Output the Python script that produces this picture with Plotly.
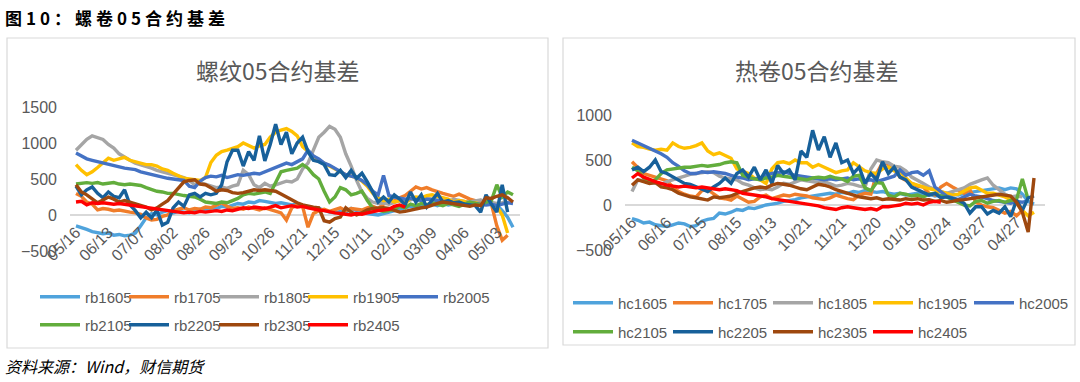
import plotly.graph_objects as go

W, H = 1080, 382

# ---------------- data ----------------
rb_ticks = ["05/16", "06/13", "07/07", "08/02", "08/26", "09/23", "10/26",
            "11/21", "12/15", "01/11", "02/13", "03/09", "04/06", "05/03"]
hc_ticks = ["05/16", "06/16", "07/15", "08/15", "09/13", "10/21", "11/21",
            "12/20", "01/19", "02/24", "03/27", "04/27"]

rb_names = ["rb1605", "rb1705", "rb1805", "rb1905", "rb2005",
            "rb2105", "rb2205", "rb2305", "rb2405"]
hc_names = ["hc1605", "hc1705", "hc1805", "hc1905", "hc2005",
            "hc2105", "hc2205", "hc2305", "hc2405"]

rb1605 = [-150, -170, -200, -230, -240, -260, -250, -280, -270, -290, -280, -250,
          -150, -40, 20, 0, 40, 60,
          30, 50, 40, 30, 60, 80, 70, 100, 90, 120, 110, 140,
          160, 150, 180, 170, 200, 190, 180, 160, 170, 150, 140, 150,
          130, 120, 100, 90, 60, 40, 30, 50, 40, 90, 60, 30,
          20, 10, 0, 20, 40, 60, 80, 100, 120, 110, 130, 140,
          150, 130, 160, 140, 150, 170, 160, 180, 190, 200, 180, 170,
          140, 60, -30, -170]
rb1705 = [300, 260, 180, 150, 70, 90, 80, 60, 70, 50, 40, 30,
          10, -40, -70, -60, -20, 0,
          60, 80, 100, 70, 90, 80, 110, 100, 140, 170, 120, 90,
          100, 80, 110, 90, 70, 100, 80, 60, 30, -70, 100, 140,
          120, -170, 20, 60, 80, 50, 70, 100, 60, 90, 80, 70,
          100, 120, 90, 150, 180, 200, 240, 270, 330, 390, 360, 380,
          350, 320, 300, 280, 260, 290, 250, 220, 200, 190, 180, 150,
          -150, -350, -280, None]
rb1805 = [900, 980, 1050, 1100, 1080, 1050, 980, 930, 850, 800, 760, 720,
          700, 680, 650, 620, 600, 580,
          560, 540, 520, 480, 420, 450, 430, 400, 380, 390, 370, 400,
          420, 620, 560, 420, 380, 440, 400, 420, 450, 470, 460, 500,
          640, 720, 900, 1080, 1150, 1230, 1190, 1080, 850, 680, 480, 320,
          230, 180, 160, 170, 150, 180, 200, 190, 210, 230, 220, 240,
          220, 210, 200, 190, 220, 200, 190, 180, 200, 210, 190, 180,
          160, 170, 190, None]
rb1905 = [700, 620, 560, 600, 660, 720, 790, 760, 780, 800, 760, 740,
          720, 700, 700, 680, 640, 620,
          580, 540, 510, 500, 490, 480, 520, 730, 830, 880, 900, 930,
          950, 1000, 960, 930, 960, 980, 1080, 1150, 1180, 1200, 1160, 1100,
          950, 880, 820, 760, 720, 680, 640, 600, 560, 540, 520, 470,
          400, 300, 240, 200, 220, 180, 200, 160, 230, 250, 240, 270,
          280, 260, 240, 220, 180, 200, 190, 160, 170, 150, 180, 140,
          120, 0, -250, None]
rb2005 = [860, 820, 780, 760, 740, 720, 700, 690, 670, 650, 640, 630,
          600, 580, 560, 550, 530, 510,
          500, 490, 480, 400, 380, 470, 520, 540, 530, 550, 520, 540,
          560, 550, 560, 580, 570, 600, 620, 650, 680, 720, 700, 740,
          780, 900, 820, 780, 720, 690, 650, 600, 560, 540, 520, 480,
          420, 330, 280, 550, 270, 250, 240, 220, 230, 210, 200, 220,
          210, 200, 190, 180, 170, 160, 150, 170, 160, 150, 140, 150,
          130, 150, 170, 160]
rb2105 = [430, 440, 450, 440, 450, 430, 440, 450, 430, 420, 430, 420,
          410, 380, 350, 330, 320, 300,
          300, 280, 270, 260, 250, 220, 180, 170, 160, 180, 170, 200,
          230, 280, 300, 290, 310, 320, 300, 450, 600, 620, 640, 650,
          700, 650, 560, 500, 330, 180, 250, 380, 350, 280, 300, 330,
          200, 100, 70, 50, 60, 80, 120, 100, 150, 130, 160, 140,
          170, 150, 130, 160, 140, 120, 150, 180, 160, 140, 180, 200,
          420, 250, 320, 280]
rb2205 = [400, 280, 350, 390, 300, 240, 320, 260, 240, 350, 140, 60,
          -40, 40, -40, 70, -140, -100,
          100, 180, 120, 280, 300, 250, 300, 280, 300, 420, 740, 900,
          900, 680, 880, 760, 1100, 750, 980, 1260, 980, 1150, 850, 1000,
          1080, 880, 760, 740, 700, 560, 550, 620, 520, 620, 510, 580,
          460, 320, 180, 250, 180, 280, 220, 140, 320, 180, 280, 110,
          200, 300, 180, 200, 170, 180, 150, 140, 130, 40, 280, 150,
          40, 420, 40, None]
rb2305 = [420, 320, 280, 230, 170, 210, 250, 220, 180, 200, 180, 150,
          140, 110, 70, 100, 150, 200,
          290, 380, 460, 480, 490, 430, 420, 380, 330, 350, 340, 310,
          300, 310, 330, 350, 340, 350, 340, 330, 290, 250, 200, 170,
          140, 120, 110, 100, -80, -100, -50, -30, 100, 40, 0, 30,
          70, 90, 100, 100, 90, 70, 40, 50, 70, 90, 100, 110,
          140, 160, 180, 170, 160, 140, 130, 120, 140, 130, 240, 230,
          260, 280, 240, 180]
rb2405 = [180, 190, 140, 170, 160, 170, 160, 150, 160, 150, 140, 130,
          120, 110, 100, 90, 80, 60,
          50, 40, 30, 40, 30, 50, 40, 50, 60, 50, 70, 60,
          80, 100, 90, 110, 100, 90, 110, 130, 100, 120, 130, 110,
          120, 100, 80, 70, 60, 40, 30, 20, 10, 0, 20, 10,
          30, 50, 60, 70, 80, 120, 140, 110] + [None] * 20

hc1605 = [-150, -170, -200, -190, -220, -230, -240, -220, -200, -210, -240, -230,
          -180, -160, -150, -90, -100, -80, -50, -60, -30, -40, -20, 0,
          10, 20, 40, 50, 60, 80, 90, 100, 110, 120, 130, 120,
          140, 130, 150, 140, 160, 150, 140, 150, 130, 120, 130, 110,
          120, 130, 110, 120, 100, 110, 130, 120, 110, 130, 140, 150,
          160, 170, 180, 190, 170, 190, 180, 120, 40, 10]
hc1705 = [480, 420, 350, 330, 310, 290, 270, 200, 150, 120, 100, 90,
          160, 170, 120, 80, 70, 55, 100, 60, 30, 40, 90, 110,
          70, 90, 110, 100, 120, 110, 100, 80, 70, 60, 80, 110,
          90, 70, 60, 110, 130, 120, 350, 470, 450, 400, 310, 270,
          240, 210, 200, 130, 110, 200, 240, 200, 160, 130, 170, 30,
          0, -20, -30, -60, -90, -70, -120, -60, None, None]
hc1805 = [150, 280, 270, 250, 240, 230, 260, 280, 300, 320, 340, 350,
          360, 370, 360, 320, 300, 290, 280, 240, 220, 190, 170, 180,
          170, 200, 240, 230, 260, 280, 270, 260, 250, 260, 230, 210,
          220, 240, 230, 210, 200, 400, 500, 480, 470, 430, 420, 380,
          310, 280, 240, 200, 170, 150, 130, 150, 170, 190, 230, 260,
          280, 300, 220, 170, 120, 90, 100, 90, None, None]
hc1905 = [690, 650, 640, 620, 610, 620, 610, 690, 650, 630, 640, 660,
          690, 600, 560, 580, 550, 520, 400, 370, 350, 300, 280, 240,
          400, 470, 480, 460, 500, 470, 470, 420, 450, 420, 390, 360,
          380, 390, 470, 420, 380, 360, 350, 400, 420, 380, 370, 300,
          240, 220, 200, 180, 170, 150, 130, 110, 120, 160, 190, 200,
          170, 130, 130, 110, 90, 60, 20, -60, -120, -80]
hc2005 = [720, 690, 670, 640, 610, 570, 530, 470, 430, 380, 350, 350,
          370, 360, 370, 360, 350, 330, 310, 300, 280, 290, 300, 330,
          350, 360, 370, 350, 330, 320, 310, 300, 290, 280, 290, 280,
          290, 300, 280, 290, 270, 280, 260, 280, 300, 320, 390, 330,
          360, 370, 330, 380, 200, 150, 100, 80, 60, 90, 120, 100,
          90, 70, 50, 40, 30, 20, 40, 30, 50, None]
hc2105 = [420, 380, 300, 260, 280, 350, 390, 400, 410, 420, 420, 430,
          440, 430, 440, 450, 470, 480, 470, 330, 310, 290, 280, 300,
          310, 330, 320, 310, 300, 290, 280, 300, 310, 300, 320, 300,
          290, 260, 320, 330, 190, 160, 250, 240, 110, 90, 130, 120,
          100, 110, 90, 120, 130, 100, 90, 60, 30, 0, -10, 40,
          50, 20, 40, 50, 30, 50, 60, 290, 60, None]
hc2205 = [390, 420, 370, 420, 500, 370, 350, 310, 280, 240, 230, 200,
          170, 150, 200, 240, 300, 240, 350, 390, 310, 420, 280, 390,
          240, 440, 350, 390, 280, 600, 530, 830, 610, 760, 530, 690,
          470, 500, 350, 420, 240, 350, 280, 480, 350, 420, 310, 280,
          200, 170, 130, 110, 130, 80, 90, 70, 55, 20, -90, -20,
          -20, -100, -60, -90, -20, -130, 55, -60, 80, 100]
hc2305 = [220, 280, 260, 240, 250, 200, 190, 170, 130, 110, 90, 80,
          70, 55, 90, 80, 90, 100, 130, 150, 170, 190, 200, 190,
          220, 240, 230, 220, 200, 180, 170, 200, 230, 220, 200, 170,
          150, 130, 110, 90, 80, 70, 80, 60, 70, 60, 55, 70,
          60, 70, 55, 60, 40, 50, 30, 40, 55, 60, 70, 80,
          90, 100, 110, 120, 110, 100, 30, -80, -300, 300]
hc2405 = [300, 350, 310, 280, 260, 240, 220, 210, 200, 210, 200, 190,
          200, 190, 180, 170, 180, 170, 160, 130, 120, 110, 100, 90,
          70, 60, 50, 40, 30, 20, 10, 0, -10, -30, -40, -50,
          -30, -20, -30, -40, -50, -40, -55, -20, -20, -10, 0, 20,
          10, 20, 0, 30, 40, 30] + [None] * 16

rb_series = [rb1605, rb1705, rb1805, rb1905, rb2005, rb2105, rb2205, rb2305, rb2405]
hc_series = [hc1605, hc1705, hc1805, hc1905, hc2005, hc2105, hc2205, hc2305, hc2405]

# ---------------- style ----------------
colors = ["#4FA3DC", "#F07D2A", "#A5A5A5", "#FFC000", "#4472C4",
          "#62AD3C", "#17609A", "#9E480E", "#FF0000"]
TICK_STEP = 6
GREY = "#595959"
TICK_FONT = dict(family="Liberation Sans, Arial, sans-serif", size=16, color=GREY)
LEG_FONT = dict(family="Liberation Sans, Arial, sans-serif", size=15, color=GREY)
CJK = "Noto Sans CJK SC"
LW = 3.4

# legend layout (pixel positions of each entry: 5 per row)
RB_LEG_X, RB_LEG_Y = [35, 124, 214, 303, 393], [297, 325]
HC_LEG_X, HC_LEG_Y = [568, 668, 768, 868, 969], [303, 332]


def px(x):
    return x / W


def py(y):
    return 1 - y / H


fig = go.Figure()
legend_layouts = {}
leg_common = dict(orientation="h", font=LEG_FONT, bgcolor="rgba(0,0,0,0)",
                  xanchor="left", yanchor="middle", itemwidth=40,
                  itemclick=False, itemdoubleclick=False)

k = 0
for panel, (names, series, lx, ly, xa, ya) in enumerate([
        (rb_names, rb_series, RB_LEG_X, RB_LEG_Y, "x", "y"),
        (hc_names, hc_series, HC_LEG_X, HC_LEG_Y, "x2", "y2")]):
    for i, (name, vals) in enumerate(zip(names, series)):
        k += 1
        lid = "legend" if k == 1 else "legend%d" % k
        fig.add_trace(go.Scatter(
            x=list(range(len(vals))), y=vals, mode="lines", name=name,
            line=dict(color=colors[i], width=LW), xaxis=xa, yaxis=ya,
            legend=lid, connectgaps=False))
        legend_layouts[lid] = dict(leg_common, x=px(lx[i % 5]), y=py(ly[i // 5]))

# panel geometry (pixels)
L_x0, L_x1 = 70, 520
L_first, L_last = 76, 513
L_spp = (L_last - L_first) / (len(rb1605) - 1)
L_r0 = -(L_first - L_x0) / L_spp
L_r1 = L_r0 + (L_x1 - L_x0) / L_spp
L_ytop, L_ybot = 107, 251          # 1500 .. -500
L_yzero = 215

R_x0, R_x1 = 625, 1045
R_first, R_last = 632, 1034
R_spp = (R_last - R_first) / (len(hc1605) - 1)
R_r0 = -(R_first - R_x0) / R_spp
R_r1 = R_r0 + (R_x1 - R_x0) / R_spp
R_ytop, R_ybot = 115, 250          # 1000 .. -500
R_yzero = 205

xcommon = dict(showgrid=False, zeroline=False, showline=False, ticks="",
               tickangle=-45, tickfont=TICK_FONT, anchor="free",
               ticklabelstandoff=4, automargin=False)
ycommon = dict(showgrid=False, zeroline=True, zerolinecolor="#D9D9D9",
               zerolinewidth=1.5, showline=False, ticks="", tickfont=TICK_FONT,
               ticklabelstandoff=12, automargin=False)

fig.update_layout(
    width=W, height=H,
    margin=dict(l=0, r=0, t=0, b=0, pad=0, autoexpand=False),
    paper_bgcolor="white", plot_bgcolor="white",
    xaxis=dict(xcommon, domain=[px(L_x0), px(L_x1)], range=[L_r0, L_r1],
               tickvals=[j * TICK_STEP for j in range(len(rb_ticks))],
               ticktext=rb_ticks, position=py(L_yzero)),
    yaxis=dict(ycommon, domain=[py(L_ybot), py(L_ytop)], range=[-500, 1500],
               tickvals=[-500, 0, 500, 1000, 1500]),
    xaxis2=dict(xcommon, domain=[px(R_x0), px(R_x1)], range=[R_r0, R_r1],
                tickvals=[j * TICK_STEP for j in range(len(hc_ticks))],
                ticktext=hc_ticks, position=py(R_yzero)),
    yaxis2=dict(ycommon, domain=[py(R_ybot), py(R_ytop)], range=[-500, 1000],
                tickvals=[-500, 0, 500, 1000], anchor="x2"),
    showlegend=True,
    **legend_layouts,
)

# panel borders
for (x0, y0, x1, y1) in [(7, 38, 548, 348), (563, 38, 1075, 345)]:
    fig.add_shape(type="rect", xref="paper", yref="paper",
                  x0=px(x0), x1=px(x1), y0=py(y1), y1=py(y0),
                  line=dict(color="#D9D9D9", width=1.2), fillcolor="rgba(0,0,0,0)")

# titles & texts
fig.add_annotation(text="螺纹05合约基差", x=px(278), y=py(70), xref="paper", yref="paper",
                   xanchor="center", yanchor="middle",
                   showarrow=False, font=dict(family=CJK, size=23, color=GREY))
fig.add_annotation(text="热卷05合约基差", x=px(817), y=py(70), xref="paper", yref="paper",
                   xanchor="center", yanchor="middle",
                   showarrow=False, font=dict(family=CJK, size=23, color=GREY))
fig.add_annotation(text='<b><span style="letter-spacing:4px">图10：螺卷05合约基差</span></b>',
                   x=px(3), y=py(18), xref="paper", yref="paper",
                   xanchor="left", yanchor="middle", showarrow=False,
                   font=dict(family=CJK, size=17, color="#000000"))
fig.add_annotation(text="<i>资料来源：Wind，财信期货</i>", x=px(3), y=py(366),
                   xref="paper", yref="paper", xanchor="left", yanchor="middle",
                   showarrow=False,
                   font=dict(family=CJK, size=16, color="#000000"))

fig.write_html("out.html", config={"displayModeBar": False},
               post_script="document.body.style.margin='0px';")
